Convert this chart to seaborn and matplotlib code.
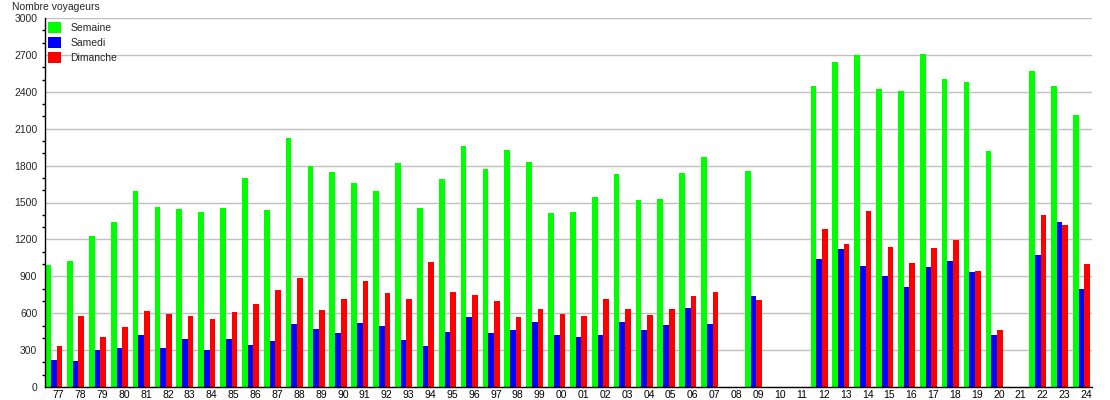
import numpy as np
import pandas as pd
import matplotlib
matplotlib.use("Agg")
import matplotlib.pyplot as plt
import seaborn as sns
from matplotlib.ticker import MultipleLocator

years = ["77", "78", "79", "80", "81", "82", "83", "84", "85", "86", "87", "88",
         "89", "90", "91", "92", "93", "94", "95", "96", "97", "98", "99", "00",
         "01", "02", "03", "04", "05", "06", "07", "08", "09", "10", "11", "12",
         "13", "14", "15", "16", "17", "18", "19", "20", "21", "22", "23", "24"]

semaine = [992, 1024, 1227, 1340, 1592, 1462, 1446, 1422, 1454, 1697, 1438, 2022,
           1797, 1746, 1657, 1592, 1819, 1454, 1689, 1957, 1770, 1924, 1827, 1414,
           1422, 1543, 1730, 1519, 1527, 1738, 1868, np.nan, 1754, np.nan, np.nan, 2451,
           2646, 2703, 2419, 2403, 2711, 2508, 2476, 1916, np.nan, 2573, 2451, 2208]

samedi = [222, 214, 297, 319, 424, 319, 392, 303, 392, 343, 376, 514,
          473, 441, 522, 497, 384, 335, 449, 570, 441, 465, 530, 424,
          408, 424, 530, 465, 505, 643, 514, np.nan, 741, np.nan, np.nan, 1041,
          1122, 984, 903, 814, 976, 1024, 935, 424, np.nan, 1073, 1340, 797]

dimanche = [335, 578, 408, 489, 619, 595, 578, 554, 611, 676, 789, 886,
            627, 716, 862, 765, 716, 1016, 773, 749, 700, 570, 635, 595,
            578, 716, 635, 586, 635, 741, 773, np.nan, 708, np.nan, np.nan, 1284,
            1162, 1430, 1138, 1008, 1130, 1195, 943, 465, np.nan, 1397, 1316, 1000]

series = ["Semaine", "Samedi", "Dimanche"]
colors = ["#00ff00", "#0000ff", "#ff0000"]

df = pd.DataFrame({
    "annee": years * 3,
    "serie": [series[0]] * len(years) + [series[1]] * len(years) + [series[2]] * len(years),
    "voyageurs": semaine + samedi + dimanche,
})

sns.set_style("white")
plt.rcParams["font.family"] = ["Liberation Sans", "DejaVu Sans"]
plt.rcParams["font.size"] = 7.5

fig = plt.figure(figsize=(11.1, 4.0), dpi=100)
ax = fig.add_axes([45 / 1110, 13 / 400, (1092 - 45) / 1110, (387 - 18) / 400])

sns.barplot(data=df, x="annee", y="voyageurs", hue="serie",
            order=years, hue_order=series, palette=colors,
            saturation=1, width=0.78, linewidth=0, errorbar=None, ax=ax)

ax.set_ylim(0, 3000)
ax.set_xlim(-0.4, len(years) - 0.52)
ax.yaxis.set_major_locator(MultipleLocator(300))
ax.yaxis.set_minor_locator(MultipleLocator(100))
ax.grid(axis="y", which="major", color="#c0c0c0", linewidth=1)
ax.grid(axis="x", visible=False)
ax.set_axisbelow(True)

ax.set_xticks(np.arange(len(years)) + 0.22)
ax.set_xticklabels(years)
ax.tick_params(axis="x", length=0, pad=2, labelsize=7.5, colors="black")
ax.tick_params(axis="y", which="major", length=4, width=1, color="black", pad=1.5, labelsize=7.5)
ax.tick_params(axis="y", which="minor", length=2, width=1, color="black", left=True)
ax.set_xlabel("")
ax.set_ylabel("")

for side in ["top", "right"]:
    ax.spines[side].set_visible(False)
for side in ["left", "bottom"]:
    ax.spines[side].set_color("black")
    ax.spines[side].set_linewidth(1)

handles, labels = ax.get_legend_handles_labels()
ax.legend(handles, labels, loc="upper left", bbox_to_anchor=(3 / 1047, 1 - 4 / 369),
          frameon=False, borderpad=0, borderaxespad=0, handlelength=1.25,
          handleheight=1.25, handletextpad=0.9, labelspacing=0.4, fontsize=7.5)

fig.text(12 / 1110, 1 - 7 / 400, "Nombre voyageurs", ha="left", va="center", fontsize=7.5)

fig.savefig("out.png", dpi=100)
